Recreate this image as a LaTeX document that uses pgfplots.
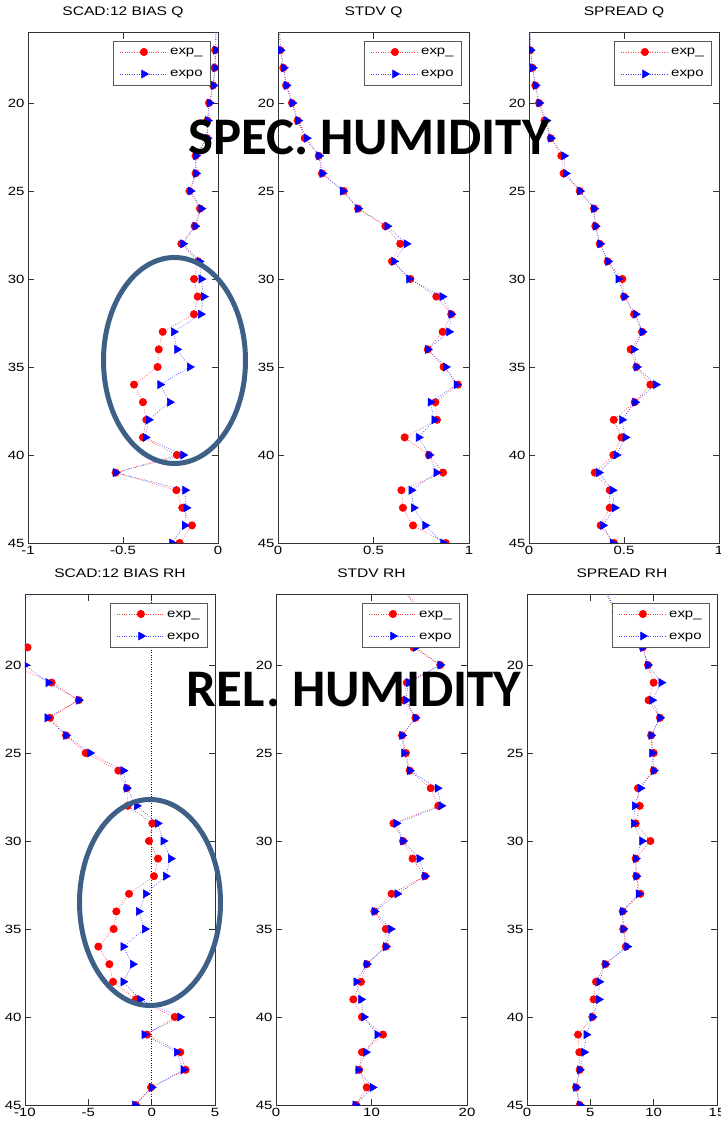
\documentclass[border=0pt]{standalone}
\usepackage{pgfplots}
\pgfplotsset{compat=1.18}
\usepackage{fontspec}
\setmainfont[FakeStretch=1.25]{Liberation Sans}
\newfontfamily\calib{Carlito}
\definecolor{ellc}{RGB}{62,96,135}
\pgfplotsset{
  panel/.style={
    scale only axis, width=190bp, height=510.4bp, anchor=south west,
    y dir=reverse, ymin=16, ymax=45, ytick={20,25,30,35,40,45},
    tick align=inside, tick pos=both, major tick length=6bp,
    axis line style={black!80, line width=0.7bp},
    every tick/.style={black!80, line width=0.7bp},
    clip marker paths=true,
    tick label style={font=\fontsize{12}{14}\selectfont},
    /pgf/number format/assume math mode=true,
    title style={font=\fontsize{12.5}{14}\selectfont, at={(0.5,1)}, anchor=base, yshift=11bp},
    legend style={at={(1,1)}, anchor=north east, xshift=-7bp, yshift=-8bp,
      draw=black!65, line width=0.8bp, inner xsep=6bp, inner ysep=3bp, row sep=6bp,
      nodes={inner sep=2bp, text height=9bp, text depth=3bp},
      font=\fontsize{12}{14}\selectfont},
    legend cell align=left,
    legend image code/.code={\draw[mark repeat=2,mark phase=2,##1] plot coordinates {(0bp,0bp) (24bp,0bp) (48bp,0bp)};},
  },
  rser/.style={red!75, line width=0.6bp, dash pattern=on 0.8bp off 1.6bp, mark=*, mark size=3.7bp, mark options={solid, fill=red, draw=red}},
  bser/.style={blue!75, line width=0.6bp, dash pattern=on 0.8bp off 1.6bp, mark=triangle*, mark size=4.6bp, mark options={solid, rotate=-90, fill=blue, draw=blue}},
}
\begin{document}
\begin{tikzpicture}
\useasboundingbox (0bp,0bp) rectangle (721bp,1124bp);
% ---------------- top row: specific humidity ----------------
\begin{axis}[panel, at={(28bp,581bp)}, xmin=-1, xmax=0, xtick={-1,-0.5,0}, title={SCAD:12 BIAS Q}]
\addplot[rser] coordinates {(-0.010,15) (-0.015,17) (-0.018,18) (-0.026,19) (-0.047,20) (-0.056,21) (-0.058,22) (-0.118,23) (-0.118,24) (-0.150,25) (-0.095,26) (-0.123,27) (-0.193,28) (-0.105,29) (-0.126,30) (-0.107,31) (-0.126,32) (-0.291,33) (-0.312,34) (-0.318,35) (-0.442,36) (-0.395,37) (-0.377,38) (-0.395,39) (-0.216,40) (-0.539,41) (-0.219,42) (-0.188,43) (-0.137,44) (-0.202,45)};
\addlegendentry{exp\_}
\addplot[bser] coordinates {(-0.008,15) (-0.012,17) (-0.015,18) (-0.024,19) (-0.045,20) (-0.054,21) (-0.056,22) (-0.116,23) (-0.116,24) (-0.145,25) (-0.088,26) (-0.120,27) (-0.184,28) (-0.098,29) (-0.088,30) (-0.075,31) (-0.091,32) (-0.233,33) (-0.216,34) (-0.149,35) (-0.305,36) (-0.254,37) (-0.365,38) (-0.382,39) (-0.184,40) (-0.539,41) (-0.174,42) (-0.167,43) (-0.175,44) (-0.242,45)};
\addlegendentry{expo}
\end{axis}
\begin{axis}[panel, at={(278bp,581bp)}, width=191bp, xmin=0, xmax=1, xtick={0,0.5,1}, title={STDV Q}]
\addplot[rser] coordinates {(0.005,15) (0.012,17) (0.028,18) (0.042,19) (0.073,20) (0.103,21) (0.140,22) (0.213,23) (0.230,24) (0.344,25) (0.419,26) (0.562,27) (0.640,28) (0.597,29) (0.693,30) (0.829,31) (0.907,32) (0.862,33) (0.784,34) (0.867,35) (0.942,36) (0.824,37) (0.832,38) (0.663,39) (0.790,40) (0.864,41) (0.646,42) (0.654,43) (0.707,44) (0.878,45)};
\addlegendentry{exp\_}
\addplot[bser] coordinates {(0.005,15) (0.013,17) (0.030,18) (0.044,19) (0.075,20) (0.105,21) (0.150,22) (0.215,23) (0.232,24) (0.339,25) (0.419,26) (0.572,27) (0.672,28) (0.607,29) (0.686,30) (0.860,31) (0.907,32) (0.895,33) (0.784,34) (0.878,35) (0.934,36) (0.798,37) (0.818,38) (0.736,39) (0.792,40) (0.829,41) (0.698,42) (0.710,43) (0.770,44) (0.864,45)};
\addlegendentry{expo}
\end{axis}
\begin{axis}[panel, at={(529bp,581bp)}, xmin=0, xmax=1, xtick={0,0.5,1}, title={SPREAD Q}]
\addplot[rser] coordinates {(0.003,15) (0.007,17) (0.018,18) (0.033,19) (0.053,20) (0.082,21) (0.114,22) (0.170,23) (0.182,24) (0.267,25) (0.342,26) (0.349,27) (0.372,28) (0.414,29) (0.491,30) (0.500,31) (0.553,32) (0.595,33) (0.535,34) (0.565,35) (0.639,36) (0.556,37) (0.446,38) (0.486,39) (0.444,40) (0.346,41) (0.425,42) (0.425,43) (0.377,44) (0.447,45)};
\addlegendentry{exp\_}
\addplot[bser] coordinates {(0.003,15) (0.008,17) (0.019,18) (0.034,19) (0.054,20) (0.091,21) (0.115,22) (0.184,23) (0.193,24) (0.268,25) (0.342,26) (0.350,27) (0.374,28) (0.416,29) (0.470,30) (0.502,31) (0.561,32) (0.597,33) (0.551,34) (0.567,35) (0.667,36) (0.558,37) (0.489,38) (0.507,39) (0.460,40) (0.367,41) (0.439,42) (0.451,43) (0.389,44) (0.439,45)};
\addlegendentry{expo}
\end{axis}
% ---------------- bottom row: relative humidity ----------------
\begin{axis}[panel, at={(25bp,19bp)}, xmin=-10, xmax=5, xtick={-10,-5,0,5}, title={SCAD:12 BIAS RH}]
\addplot[blue, line width=0.6bp, dash pattern=on 0.8bp off 1.6bp, forget plot] coordinates {(0,16) (0,45)};
\addplot[rser] coordinates {(-13,15) (-14,17) (-12,18) (-9.8,19) (-11,20) (-7.9,21) (-5.76,22) (-8.03,23) (-6.76,24) (-5.21,25) (-2.63,26) (-1.97,27) (-1.89,28) (0.05,29) (-0.21,30) (0.5,31) (0.18,32) (-1.79,33) (-2.79,34) (-3.0,35) (-4.21,36) (-3.34,37) (-3.05,38) (-1.24,39) (1.82,40) (-0.37,41) (2.26,42) (2.68,43) (-0.05,44) (-1.26,45)};
\addlegendentry{exp\_}
\addplot[bser] coordinates {(-6.8,15) (-12.1,17) (-13,18) (-11.5,19) (-10.0,20) (-8.16,21) (-5.76,22) (-8.24,23) (-6.76,24) (-4.87,25) (-2.24,26) (-1.97,27) (-1.18,28) (0.47,29) (0.92,30) (1.5,31) (1.1,32) (-0.47,33) (-1.03,34) (-0.55,35) (-2.24,36) (-1.5,37) (-2.24,38) (-0.92,39) (2.24,40) (-0.58,41) (1.97,42) (2.5,43) (0.0,44) (-1.32,45)};
\addlegendentry{expo}
\end{axis}
\begin{axis}[panel, at={(276bp,19bp)}, width=191bp, xmin=0, xmax=20, xtick={0,10,20}, title={STDV RH}]
\addplot[rser] coordinates {(12.0,15) (15.5,17) (15.0,18) (14.4,19) (17.2,20) (13.7,21) (13.4,22) (14.6,23) (13.2,24) (13.6,25) (14.0,26) (16.2,27) (17.0,28) (12.3,29) (13.3,30) (14.3,31) (15.6,32) (12.1,33) (10.3,34) (11.5,35) (11.5,36) (9.5,37) (8.9,38) (8.1,39) (9.0,40) (11.2,41) (9.0,42) (8.7,43) (9.5,44) (8.4,45)};
\addlegendentry{exp\_}
\addplot[bser] coordinates {(12.5,15) (15.0,17) (15.3,18) (14.6,19) (17.2,20) (13.9,21) (13.6,22) (14.6,23) (13.2,24) (13.4,25) (14.0,26) (16.9,27) (17.3,28) (12.6,29) (13.3,30) (15.0,31) (15.6,32) (12.7,33) (10.3,34) (12.0,35) (11.5,36) (9.5,37) (8.4,38) (8.9,39) (9.2,40) (10.6,41) (9.4,42) (8.6,43) (10.1,44) (8.3,45)};
\addlegendentry{expo}
\end{axis}
\begin{axis}[panel, at={(527bp,19bp)}, xmin=0, xmax=15, xtick={0,5,10,15}, title={SPREAD RH}]
\addplot[rser] coordinates {(5.5,15) (7.0,17) (8.0,18) (9.13,19) (9.55,20) (10.0,21) (9.6,22) (10.5,23) (9.8,24) (10.0,25) (10.0,26) (8.76,27) (8.9,28) (8.58,29) (9.74,30) (8.58,31) (8.63,32) (8.95,33) (7.55,34) (7.6,35) (7.8,36) (6.18,37) (5.45,38) (5.26,39) (5.16,40) (4.03,41) (4.13,42) (4.16,43) (3.87,44) (4.16,45)};
\addlegendentry{exp\_}
\addplot[bser] coordinates {(5.6,15) (7.1,17) (8.1,18) (9.13,19) (9.55,20) (10.6,21) (9.87,22) (10.5,23) (9.8,24) (9.87,25) (10.0,26) (8.95,27) (8.5,28) (8.42,29) (9.08,30) (8.58,31) (8.63,32) (8.8,33) (7.55,34) (7.6,35) (7.9,36) (6.18,37) (5.7,38) (5.66,39) (5.16,40) (4.68,41) (4.5,42) (4.16,43) (3.87,44) (4.16,45)};
\addlegendentry{expo}
\end{axis}
% ---------------- annotations ----------------
\draw[ellc, line width=5bp] (174.5bp,763.5bp) ellipse [x radius=71bp, y radius=103bp];
\draw[ellc, line width=5bp] (150bp,221.5bp) ellipse [x radius=70.5bp, y radius=103bp];
\node[anchor=base, inner sep=0pt, font=\calib\bfseries\fontsize{53}{60}\selectfont] at (369bp,969bp) {SPEC. HUMIDITY};
\node[anchor=base, inner sep=0pt, font=\calib\bfseries\fontsize{53}{60}\selectfont] at (354bp,417bp) {REL. HUMIDITY};
\end{tikzpicture}
\end{document}
